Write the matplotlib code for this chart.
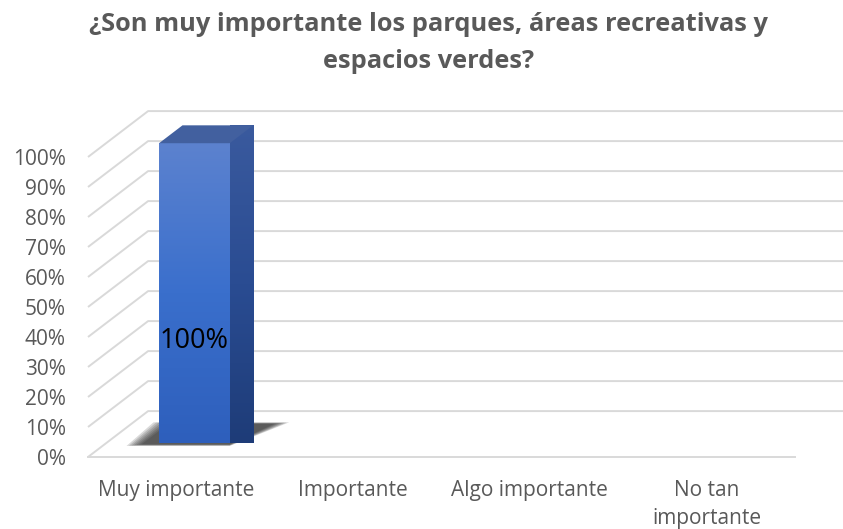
import numpy as np
import matplotlib.pyplot as plt
from matplotlib.patches import Polygon
from matplotlib.colors import LinearSegmentedColormap

categories = ['Muy importante', 'Importante', 'Algo importante', 'No tan\nimportante']
values = [100, 0, 0, 0]
yticks = np.arange(0, 101, 10)
ytick_labels = ['%d%%' % v for v in yticks]

txt = '#595959'
grid = '#d9d9d9'

fig = plt.figure(figsize=(8.43, 5.29), dpi=100)
ax = fig.add_axes([88 / 843, 72 / 529, 707 / 843, 300 / 529])
ax.set_xlim(0, 4)
ax.set_ylim(0, 100)
for s in ax.spines.values():
    s.set_visible(False)

# depth of the 3d box in data units
dx, dy = 0.34, 15.3

ax.set_yticks(yticks)
ax.set_yticklabels(ytick_labels, fontsize=15, color=txt, family='Open Sans')
ax.set_xticks(np.arange(4) + 0.5)
ax.set_xticklabels(categories, fontsize=15, color=txt, family='Open Sans', linespacing=1.45)
ax.tick_params(length=0)
ax.tick_params(axis='y', pad=16)
ax.tick_params(axis='x', pad=16.5)

# walls
for v in yticks:
    ax.plot([0, dx, 4.3 + dx], [v, v + dy, v + dy], color=grid, lw=1.4,
            clip_on=False, zorder=1, solid_capstyle='butt')
ax.plot([0, 4], [0, 0], color=grid, lw=1.4, clip_on=False, zorder=1)

# bars
bw, f0, bd = 0.4, 0.3, 0.39
grad = np.linspace(0, 1, 256).reshape(-1, 1)
front = LinearSegmentedColormap.from_list('f', ['#2e5fbc', '#3a6fcc', '#5c82cf'])
side = LinearSegmentedColormap.from_list('s', ['#1e3c78', '#2a4c92', '#3a5a9e'])
for i, v in enumerate(values):
    if v <= 0:
        continue
    x0 = i + 0.5 - bw / 2 + f0 * dx
    x1 = x0 + bw
    y0 = f0 * dy
    y1 = y0 + v
    ex, ey = bd * dx, bd * dy

    # shadow on the floor, soft edges from stacked layers
    for k in range(7):
        g = 0.014 * (6 - k)
        sh = Polygon([(x0 - 0.1 - g, y0 - 0.4 - g * 6), (x1, y0 - 0.4 - g * 6),
                      (x1 + ex + 0.12 + g, y0 + ey + 0.5 + g * 6), (x0 + ex - 0.08 - g, y0 + ey + 0.5 + g * 6)],
                     closed=True, facecolor='#1a1a1a', edgecolor='none', alpha=0.16,
                     zorder=2, clip_on=False)
        ax.add_patch(sh)

    ax.imshow(grad, cmap=front, extent=[x0, x1, y0, y1], origin='lower',
              aspect='auto', zorder=4, clip_on=False)

    side_poly = Polygon([(x1, y0), (x1 + ex, y0 + ey), (x1 + ex, y1 + ey), (x1, y1)],
                        closed=True, facecolor='none', edgecolor='none')
    ax.add_patch(side_poly)
    im = ax.imshow(grad, cmap=side, extent=[x1, x1 + ex, y0, y1 + ey], origin='lower',
                   aspect='auto', zorder=4, clip_on=False)
    im.set_clip_path(side_poly)
    im.set_clip_box(None)

    top = Polygon([(x0, y1), (x1, y1), (x1 + ex, y1 + ey), (x0 + ex, y1 + ey)],
                  closed=True, facecolor='#42609f', edgecolor='none', zorder=5, clip_on=False)
    ax.add_patch(top)

    ax.text((x0 + x1) / 2, y0 + 34, '%d%%' % v, ha='center', va='center',
            fontsize=19.5, color='black', family='Open Sans', zorder=6)

ax.set_xlim(0, 4)
ax.set_ylim(0, 100)

fig.text(0.508, 1 - 43 / 529, '¿Son muy importante los parques, áreas recreativas y\nespacios verdes?',
         ha='center', va='center', fontsize=18.3, fontweight='bold', color=txt,
         family='Open Sans', linespacing=1.6)

fig.savefig('out.png', dpi=100)
